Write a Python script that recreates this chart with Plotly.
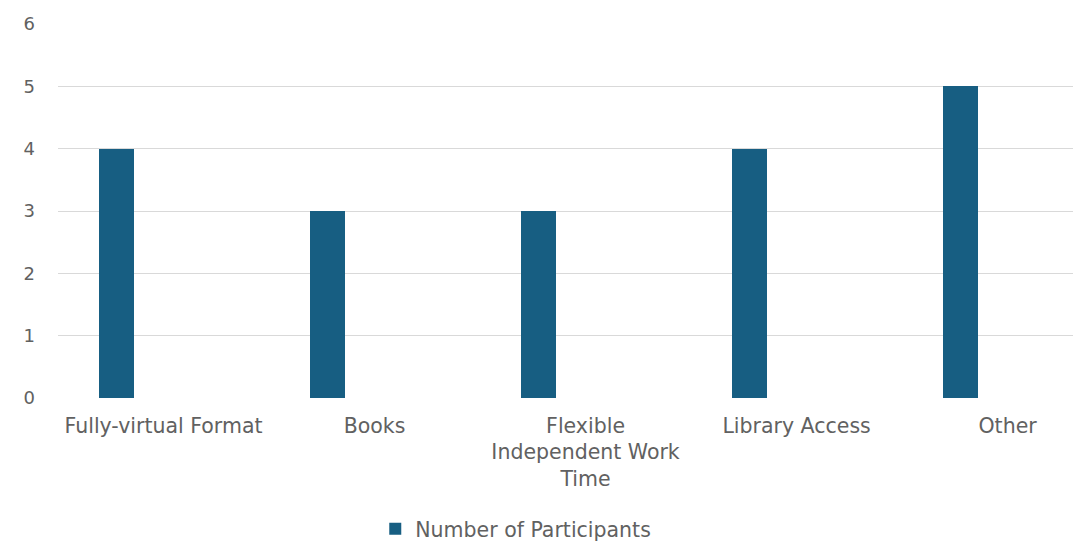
import plotly.graph_objects as go

categories = ["Fully-virtual Format", "Books", "Flexible<br>Independent Work<br>Time", "Library Access", "Other"]
participants = [4, 3, 3, 4, 5]
y_ticks = [0, 1, 2, 3, 4, 5, 6]
series_name = "Number of Participants"

positions = list(range(len(categories)))

fig = go.Figure()
fig.add_trace(go.Bar(
    x=positions, y=participants, name=series_name,
    marker=dict(color="#175E82", line=dict(width=0)),
    width=0.166, offset=-0.306,
    showlegend=True,
))

font_family = "DejaVu Sans, sans-serif"
txt = "#616161"
fs = 20.5
fig.update_layout(
    width=1073, height=544,
    margin=dict(l=58, r=0, t=24, b=146, autoexpand=False),
    paper_bgcolor="white", plot_bgcolor="white",
    font=dict(family=font_family, size=fs, color=txt),
    showlegend=True,
    legend=dict(orientation="h", x=0.451, xanchor="center", y=-0.35, yanchor="middle",
                font=dict(size=fs, color=txt), itemwidth=30),
    xaxis=dict(tickmode="array", tickvals=positions, ticktext=categories,
               range=[-0.5, 4.31], showgrid=False, zeroline=False, showline=False,
               ticks="", ticklabelstandoff=13, tickfont=dict(size=fs, color=txt)),
    yaxis=dict(range=[0, 6], tickvals=y_ticks, showgrid=True, gridcolor="#D9D9D9", gridwidth=1,
               zeroline=False, showline=False, ticks="", ticklabelstandoff=22,
               tickfont=dict(size=18, color=txt)),
    bargap=0,
)
fig.write_html("out.html", config={"displayModeBar": False},
               post_script="document.body.style.margin='0';document.body.style.overflow='hidden';")
